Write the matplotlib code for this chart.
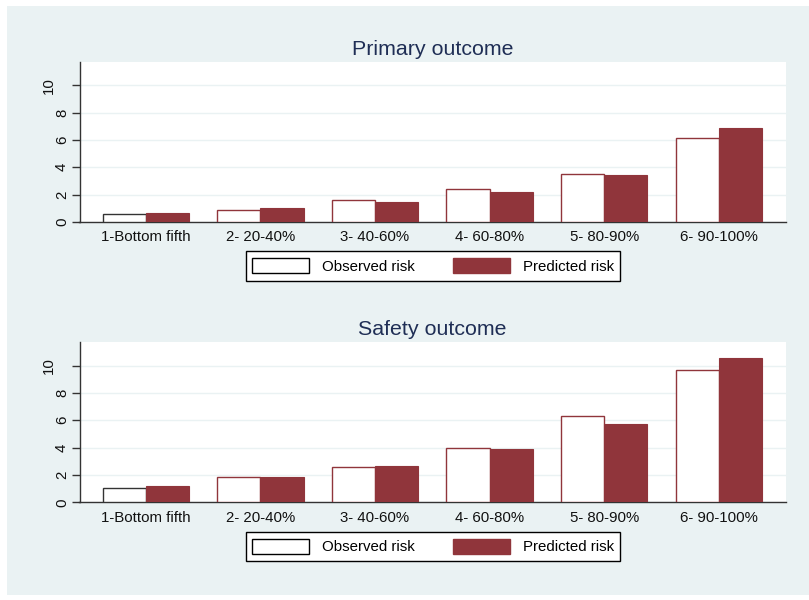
import matplotlib
matplotlib.use("Agg")
import matplotlib.pyplot as plt
import matplotlib.transforms as mtransforms
from matplotlib.patches import Patch, Rectangle
import numpy as np

categories = ["1-Bottom fifth", "2- 20-40%", "3- 40-60%", "4- 60-80%", "5- 80-90%", "6- 90-100%"]
primary_observed = [0.58, 0.85, 1.60, 2.41, 3.48, 6.15]
primary_predicted = [0.66, 1.04, 1.46, 2.19, 3.41, 6.86]
safety_observed = [1.02, 1.87, 2.56, 3.95, 6.30, 9.71]
safety_predicted = [1.17, 1.85, 2.66, 3.90, 5.71, 10.56]
titles = ["Primary outcome", "Safety outcome"]
series_labels = ["Observed risk", "Predicted risk"]
yticks = [0, 2, 4, 6, 8, 10]

W, H = 809, 600
BG = "#EAF2F3"
MAROON = "#90353B"
TITLE_C = "#1F2E55"
FS = 10.8

plt.rcParams["font.family"] = ["Liberation Sans", "DejaVu Sans"]

fig = plt.figure(figsize=(W / 100, H / 100), dpi=100)
fig.patch.set_facecolor("white")
fig.patches.append(Rectangle((7 / W, (H - 595) / H), (W - 7) / W, (595 - 6) / H,
                             transform=fig.transFigure, facecolor=BG, edgecolor="none", zorder=-10))

def px_axes(left, top, right, bottom):
    return fig.add_axes([left / W, (H - bottom) / H, (right - left) / W, (bottom - top) / H])

panels = [
    (px_axes(79.5, 62, 786, 222), primary_observed, primary_predicted, 266.0),
    (px_axes(79.5, 342.3, 786, 502.3), safety_observed, safety_predicted, 546.6),
]

x = np.arange(len(categories))
bw = 0.376
for (ax, obs, pred, leg_y), title in zip(panels, titles):
    ax.set_facecolor("white")
    edge_cols = ["#333333"] + [MAROON] * (len(categories) - 1)
    ax.bar(x - bw / 2, obs, width=bw, color="white", edgecolor=edge_cols, linewidth=1.0, zorder=3)
    ax.bar(x + bw / 2, pred, width=bw, color=MAROON, edgecolor=MAROON, linewidth=0.8, zorder=3)
    ax.set_xlim(-0.579, 5.587)
    ax.set_ylim(0, 11.7)
    ax.set_yticks(yticks)
    ax.set_yticklabels([str(v) for v in yticks], rotation=90, va="center")
    ax.set_xticks(x)
    ax.set_xticklabels(categories)
    ax.tick_params(axis="x", length=0, pad=6, labelsize=FS, colors="#111111")
    ax.tick_params(axis="y", length=5.5, width=1, pad=2, labelsize=FS, color="#333333", labelcolor="#111111")
    # shift the "10" label as in reference
    lbl = ax.get_yticklabels()[-1]
    lbl.set_transform(lbl.get_transform() + mtransforms.ScaledTranslation(-13 / 100, 0, fig.dpi_scale_trans))
    ax.grid(axis="y", color=BG, linewidth=1.0, zorder=0)
    ax.set_axisbelow(True)
    for s in ["top", "right"]:
        ax.spines[s].set_visible(False)
    for s in ["left", "bottom"]:
        ax.spines[s].set_color("#333333")
        ax.spines[s].set_linewidth(1.0)
    ax.set_title(title, fontsize=15.4, color=TITLE_C, pad=5)
    handles = [Patch(facecolor="white", edgecolor="black", linewidth=1.0),
               Patch(facecolor=MAROON, edgecolor=MAROON)]
    leg = fig.legend(handles, series_labels, loc="center", ncol=2,
                     bbox_to_anchor=(433 / W, (H - leg_y) / H), bbox_transform=fig.transFigure,
                     fontsize=FS, handlelength=3.8, handleheight=1.15, handletextpad=0.87,
                     columnspacing=2.5, borderpad=0.45, fancybox=False, frameon=True)
    leg.get_frame().set_edgecolor("black")
    leg.get_frame().set_linewidth(1.0)
    leg.get_frame().set_facecolor("white")
    leg.get_frame().set_alpha(1)

fig.savefig("out.png", dpi=100, facecolor=fig.get_facecolor())
